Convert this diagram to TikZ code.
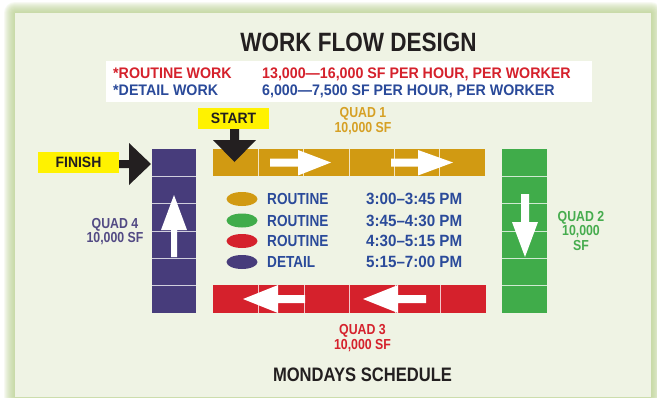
\documentclass[tikz,border=0pt]{standalone}
\usepackage{fontspec}
\usetikzlibrary{shapes.geometric}
\newfontfamily\titlef[FakeStretch=0.85]{Liberation Sans}
\newfontfamily\bodyf[FakeStretch=0.93]{Liberation Sans}
\newcommand\setfs[2]{\fontsize{#1}{#2}\selectfont}
\definecolor{panel}{RGB}{239,243,228}
\definecolor{glow}{RGB}{185,208,140}
\definecolor{gold}{RGB}{209,154,18}
\definecolor{goldtxt}{RGB}{214,160,36}
\definecolor{grn}{RGB}{64,172,74}
\definecolor{grntxt}{RGB}{70,172,78}
\definecolor{redc}{RGB}{213,33,44}
\definecolor{purp}{RGB}{71,60,123}
\definecolor{purptxt}{RGB}{82,74,132}
\definecolor{bluet}{RGB}{42,74,154}
\definecolor{yel}{RGB}{255,242,0}
\definecolor{ink}{RGB}{35,31,32}
\tikzset{
  bar/.style={inner sep=0, outer sep=0, draw=none},
  divider/.style={draw=white, draw opacity=0.75, line width=0.9pt},
  whitearrow/.style={fill=white},
  blackarrow/.style={fill=ink},
  tag/.style={fill=yel, inner sep=0, outer sep=0, font=\bodyf\bfseries\setfs{15}{15}, text=ink},
  rate/.style={anchor=base west, inner sep=0, font=\bodyf\bfseries\setfs{15.3}{15.3}},
  legdot/.style={ellipse, inner sep=0, minimum width=31pt, minimum height=14pt},
  legtxt/.style={anchor=west, inner sep=0, font=\titlef\bfseries\setfs{16}{16}, text=bluet},
  legtime/.style={anchor=west, inner sep=0, font=\bodyf\bfseries\setfs{16.3}{16.3}, text=bluet},
  quad/.style={inner sep=0, align=center, font=\titlef\bfseries\setfs{14.5}{14.5}}
}
\begin{document}
\begin{tikzpicture}[x=1pt,y=-1pt]
\useasboundingbox (0,0) rectangle (657,397);
% background and glow
\fill[white] (0,0) rectangle (657,397);
\foreach \i in {1,...,11}
  \fill[glow, opacity=0.11, rounded corners={\i pt}] ({15-\i},{13-\i}) rectangle ({651+\i},410);
\fill[panel] (15,13) rectangle (651,397);

% title
\node[anchor=base, inner sep=0, font=\titlef\bfseries\setfs{26.5}{26.5}, text=ink] (title) at (358.5,51) {WORK FLOW DESIGN};

% rates box
\node[fill=white, inner sep=0, minimum width=486pt, minimum height=41pt, anchor=north west] (rates) at (106,61) {};
\node[rate, text=redc] (r1) at (113,78) {*ROUTINE WORK};
\node[rate, text=redc] (r2) at (262,78) {13,000—16,000 SF PER HOUR, PER WORKER};
\node[rate, text=bluet] (d1) at (113,95) {*DETAIL WORK};
\node[rate, text=bluet] (d2) at (262,95) {6,000—7,500 SF PER HOUR, PER WORKER};

% quadrant bars
\node[bar, fill=gold, minimum width=272pt, minimum height=27pt] (q1) at (349,162.5) {};
\node[bar, fill=redc, minimum width=273pt, minimum height=28pt] (q3) at (349.5,299) {};
\node[bar, fill=purp, minimum width=44pt, minimum height=164pt] (q4) at (174,231) {};
\node[bar, fill=grn, minimum width=45pt, minimum height=164pt] (q2) at (524.5,231) {};

% cell dividers
\foreach \k in {1,...,5} {
  \draw[divider] ({213+\k*45.33},149) -- ++(0,27);
  \draw[divider] ({213+\k*45.5},285) -- ++(0,28);
  \draw[divider] (152,{149+\k*27.33}) -- ++(44,0);
  \draw[divider] (502,{149+\k*27.33}) -- ++(45,0);
}

% white flow arrows
\fill[whitearrow] (270,158.5) -- (298,158.5) -- (298,150) -- (331,162.5) -- (298,175.5) -- (298,166.5) -- (270,166.5) -- cycle;
\fill[whitearrow] (391,158.5) -- (418,158.5) -- (418,150) -- (453,162.5) -- (418,175.5) -- (418,166.5) -- (391,166.5) -- cycle;
\fill[whitearrow] (521,194) -- (529,194) -- (529,222) -- (538,222) -- (525,257) -- (512,222) -- (521,222) -- cycle;
\fill[whitearrow] (305,295) -- (278,295) -- (278,285) -- (243,299) -- (278,313) -- (278,303) -- (305,303) -- cycle;
\fill[whitearrow] (426,295) -- (398,295) -- (398,285) -- (363,299) -- (398,313) -- (398,303) -- (426,303) -- cycle;
\fill[whitearrow] (171,257) -- (171,230) -- (161,230) -- (174,195) -- (187,230) -- (177,230) -- (177,257) -- cycle;

% START / FINISH tags
\node[tag, minimum width=71pt, minimum height=21pt] (start) at (233.5,118.5) {START};
\node[tag, minimum width=81pt, minimum height=21pt] (finish) at (78.5,162.5) {FINISH};
\fill[blackarrow] ([xshift=1pt]start.south) ++(-4.5,0) -- ++(0,11) -- ++(-17,0) -- ++(21.5,22) -- ++(21.5,-22) -- ++(-17,0) -- ++(0,-11) -- cycle;
\fill[blackarrow] (finish.east) ++(0,-2.5) -- ++(10,0) -- ++(0,-17) -- ++(22,21) -- ++(-22,21) -- ++(0,-17) -- ++(-10,0) -- cycle;

% quadrant labels
\node[quad, text=goldtxt] (l1) at (363,121) {QUAD 1\\10,000 SF};
\node[quad, text=grntxt] (l2) at (581,231) {QUAD 2\\10,000\\SF};
\node[quad, text=redc] (l3) at (362.5,338) {QUAD 3\\10,000 SF};
\node[quad, text=purptxt] (l4) at (115,231.5) {QUAD 4\\10,000 SF};

% legend
\node[legdot, fill=gold] (e1) at (242,199) {};
\node[legdot, fill=grn] (e2) at (242,220.5) {};
\node[legdot, fill=redc] (e3) at (242,241) {};
\node[legdot, fill=purp] (e4) at (242,262) {};
\node[legtxt] (t1) at (267,199) {ROUTINE};
\node[legtxt] (t2) at (267,220.5) {ROUTINE};
\node[legtxt] (t3) at (267,241) {ROUTINE};
\node[legtxt] (t4) at (267,262) {DETAIL};
\node[legtime] (h1) at (366,199) {3:00–3:45 PM};
\node[legtime] (h2) at (366,220.5) {3:45–4:30 PM};
\node[legtime] (h3) at (366,241) {4:30–5:15 PM};
\node[legtime] (h4) at (366,262) {5:15–7:00 PM};

% footer
\node[anchor=base, inner sep=0, font=\titlef\bfseries\setfs{19.5}{19.5}, text=ink] (footer) at (362.5,381) {MONDAYS SCHEDULE};
\end{tikzpicture}
\end{document}
